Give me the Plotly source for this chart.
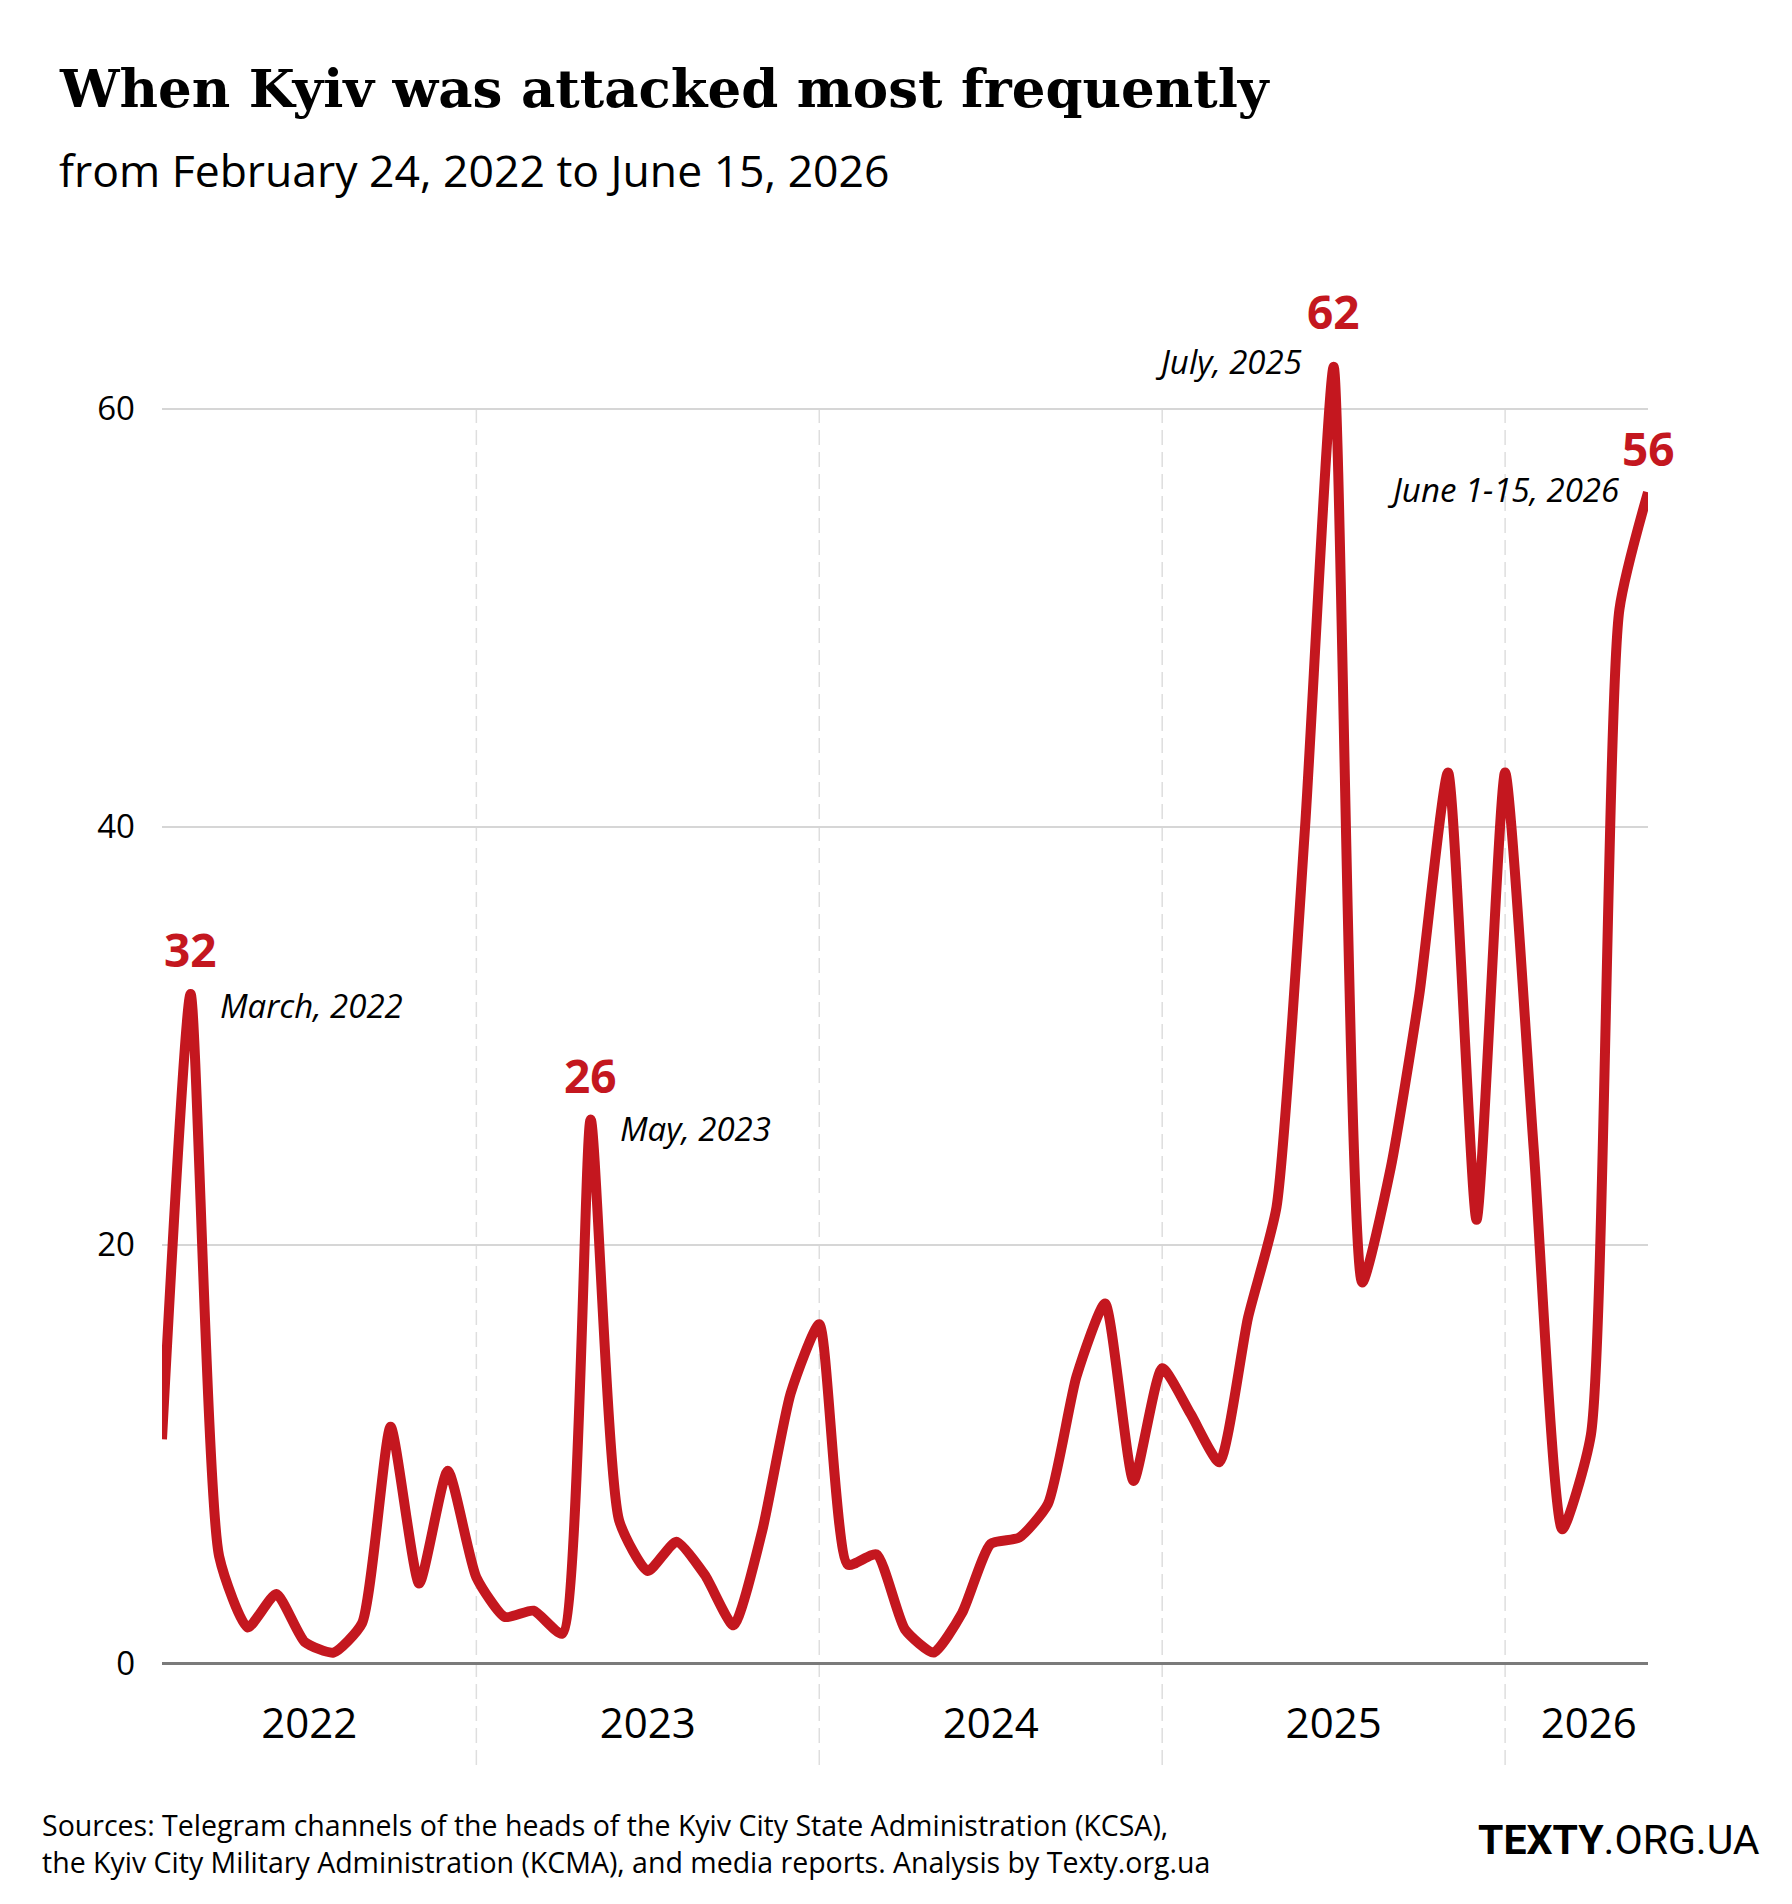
import plotly.graph_objects as go

# ---------------- data ----------------
months = [
    "2022-02", "2022-03", "2022-04", "2022-05", "2022-06", "2022-07", "2022-08", "2022-09", "2022-10", "2022-11", "2022-12",
    "2023-01", "2023-02", "2023-03", "2023-04", "2023-05", "2023-06", "2023-07", "2023-08", "2023-09", "2023-10", "2023-11", "2023-12",
    "2024-01", "2024-02", "2024-03", "2024-04", "2024-05", "2024-06", "2024-07", "2024-08", "2024-09", "2024-10", "2024-11", "2024-12",
    "2025-01", "2025-02", "2025-03", "2025-04", "2025-05", "2025-06", "2025-07", "2025-08", "2025-09", "2025-10", "2025-11", "2025-12",
    "2026-01", "2026-02", "2026-03", "2026-04", "2026-05", "2026-06",
]
attacks = [
    10.7, 32, 5.1, 1.7, 3.3, 1.0, 0.5, 1.9, 11.3, 3.8, 9.2,
    4.1, 2.2, 2.5, 1.4, 26, 6.8, 4.4, 5.8, 4.2, 1.8, 6.3, 12.9,
    16.2, 4.7, 5.2, 1.6, 0.5, 2.4, 5.7, 6.0, 7.6, 13.7, 17.2, 8.7,
    14.1, 11.9, 9.6, 16.5, 21.8, 40, 62, 18.2, 23.7, 32, 42.6, 21.2,
    42.6, 24.6, 6.4, 10.9, 50.4, 56,
]
year_labels = ["2022", "2023", "2024", "2025", "2026"]
year_label_pos = [5.15, 17, 29, 41, 49.93]
year_starts = ["2023-01", "2024-01", "2025-01", "2026-01"]
y_ticks = [0, 20, 40, 60]

highlights = [  # (month, value label, caption)
    ("2022-03", "32", "March, 2022"),
    ("2023-05", "26", "May, 2023"),
    ("2025-07", "62", "July, 2025"),
    ("2026-06", "56", "June 1-15, 2026"),
]

title = "When Kyiv was attacked most frequently"
subtitle = "from February 24, 2022 to June 15, 2026"
source = ("Sources: Telegram channels of the heads of the Kyiv City State Administration (KCSA),<br>"
          "the Kyiv City Military Administration (KCMA), and media reports. Analysis by Texty.org.ua")

# ---------------- layout geometry ----------------
W, H = 1792, 1904
ML, MR, MT, MB = 162, 144, 325, 241
YMAX = 64
PW, PH = W - ML - MR, H - MT - MB
RED = "#C4171F"
FONT = "Open Sans"

def pxx(x):
    return (x - ML) / PW

def pxy(y):
    return (H - MB - y) / PH

xs = list(range(len(attacks)))
idx = {m: i for i, m in enumerate(months)}

fig = go.Figure()
fig.add_trace(go.Scatter(
    x=xs, y=attacks, mode="lines",
    line=dict(color=RED, width=10, shape="spline", smoothing=0.55),
    text=months, hovertemplate="%{text}: %{y}<extra></extra>",
    showlegend=False,
))

shapes = []
for m in year_starts:
    shapes.append(dict(
        type="line", xref="x", yref="paper",
        x0=idx[m], x1=idx[m], y0=pxy(1765), y1=60 / YMAX,
        line=dict(color="#dedede", width=1.5, dash="15px,7px"), layer="below",
    ))

annotations = [
    dict(xref="paper", yref="paper", x=pxx(57), y=pxy(88), xanchor="left", yanchor="middle",
         text="<b>" + title + "</b>", showarrow=False,
         font=dict(family="DejaVu Serif", size=53, color="#000")),
    dict(xref="paper", yref="paper", x=pxx(57), y=pxy(170), xanchor="left", yanchor="middle",
         text=subtitle, showarrow=False, font=dict(family=FONT, size=44.5, color="#000")),
    dict(xref="paper", yref="paper", x=pxx(40), y=pxy(1843), xanchor="left", yanchor="middle",
         text=source, align="left", showarrow=False, font=dict(family=FONT, size=28.5, color="#000")),
    dict(xref="paper", yref="paper", x=pxx(1762), y=pxy(1840), xanchor="right", yanchor="middle",
         text="<b>TEXTY</b>.ORG.UA", showarrow=False, font=dict(family="Roboto", size=41, color="#000")),
]

label_cfg = {
    "2022-03": dict(num_shift=45, cap_side="left", cap_dx=27, cap_dy=-11),
    "2023-05": dict(num_shift=44, cap_side="left", cap_dx=27, cap_dy=-9),
    "2025-07": dict(num_shift=56, cap_side="right", cap_dx=-30, cap_dy=5),
    "2026-06": dict(num_shift=44, cap_side="right", cap_dx=-27, cap_dy=3),
}
for m, num, cap in highlights:
    i = idx[m]
    v = attacks[i]
    c = label_cfg[m]
    annotations.append(dict(x=i, y=v, xref="x", yref="y", text="<b>" + num + "</b>", showarrow=False,
                            xanchor="center", yanchor="middle", yshift=c["num_shift"],
                            font=dict(family=FONT, size=46, color=RED)))
    annotations.append(dict(x=i, y=v, xref="x", yref="y", text="<i>" + cap + "</i>", showarrow=False,
                            xanchor=c["cap_side"], yanchor="middle", xshift=c["cap_dx"], yshift=c["cap_dy"],
                            font=dict(family=FONT, size=33, color="#000")))

fig.update_layout(
    width=W, height=H,
    margin=dict(l=ML, r=MR, t=MT, b=MB, pad=0),
    paper_bgcolor="white", plot_bgcolor="white",
    font=dict(family=FONT, color="#000"),
    shapes=shapes, annotations=annotations,
    xaxis=dict(range=[0, len(attacks) - 1], tickmode="array", tickvals=year_label_pos, ticktext=year_labels,
               showgrid=False, zeroline=False, showline=False, ticks="",
               tickfont=dict(family=FONT, size=42, color="#000"), ticklabelstandoff=32),
    yaxis=dict(range=[0, YMAX], tickmode="array", tickvals=y_ticks,
               showgrid=True, gridcolor="#d6d6d6", gridwidth=1.5,
               zeroline=True, zerolinecolor="#7a7a7a", zerolinewidth=2.5,
               showline=False, ticks="",
               tickfont=dict(family=FONT, size=33, color="#000"), ticklabelstandoff=26),
    hovermode="closest",
)

fig.write_html("out.html")
